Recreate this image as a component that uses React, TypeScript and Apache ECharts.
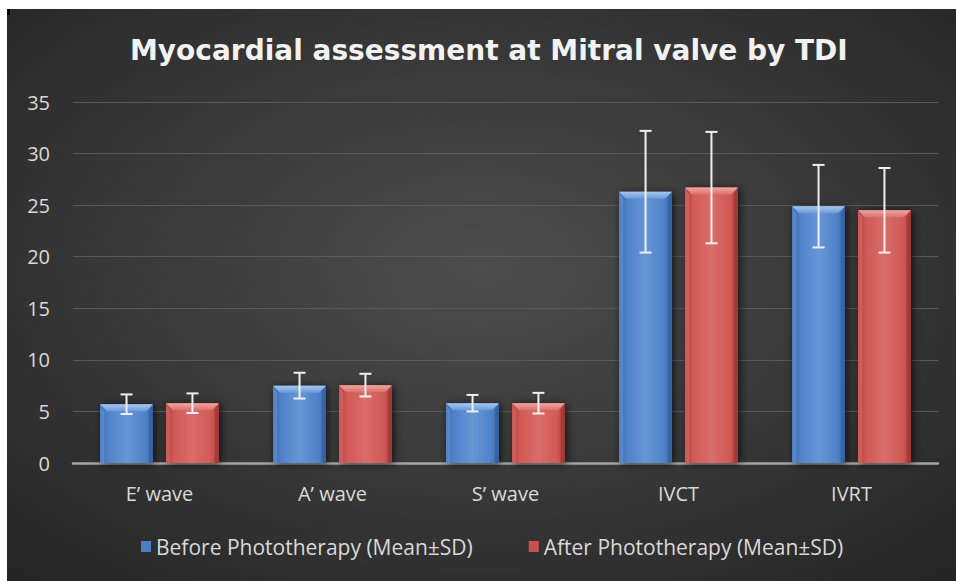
import React, { useEffect, useRef } from 'react';
import * as echarts from 'echarts';

const categories = ['E’ wave', 'A’ wave', 'S’ wave', 'IVCT', 'IVRT'];
const beforeMean = [5.7, 7.5, 5.8, 26.3, 24.9];
const beforeSD = [0.95, 1.25, 0.8, 5.9, 4.0];
const afterMean = [5.8, 7.55, 5.8, 26.7, 24.5];
const afterSD = [0.95, 1.1, 1.0, 5.4, 4.1];
const seriesNames = ['Before Phototherapy (Mean±SD)', 'After Phototherapy (Mean±SD)'];
const titleText = 'Myocardial assessment at Mitral valve by TDI';

const palettes = [
  { main: '#4f82c8', edge: '#3a68a8', light: '#6796d6', top: '#a6c8f2', topEnd: '#6c9ad6', right: '#34609c', legend: '#4a7fc6' },
  { main: '#d05956', edge: '#ad3f3c', light: '#d96d6a', top: '#f2a5a2', topEnd: '#d9716e', right: '#9e3835', legend: '#c9504d' },
];

function makeRender(side: number, pal: any) {
  return (params: any, api: any) => {
    const idx = api.value(0);
    const mean = api.value(1);
    const sd = api.value(2);
    const top = api.coord([idx, mean]);
    const base = api.coord([idx, 0]);
    const band = api.size([1, 0])[0];
    const bw = band * 0.306;
    const gap = band * 0.075;
    const cx = top[0] + side * (gap / 2 + bw / 2);
    const x0 = cx - bw / 2;
    const x1 = cx + bw / 2;
    const y0 = top[1];
    const y1 = base[1];
    const b = Math.min(7, (y1 - y0) / 2);
    const eTop = api.coord([idx, mean + sd])[1];
    const eBot = api.coord([idx, mean - sd])[1];
    const cap = 6;
    const ebStyle = { stroke: '#f0f0f0', lineWidth: 2 };
    return {
      type: 'group',
      children: [
        {
          type: 'rect',
          shape: { x: x0, y: y0, width: bw, height: y1 - y0 },
          style: {
            fill: {
              type: 'linear', x: 0, y: 0, x2: 1, y2: 0,
              colorStops: [
                { offset: 0, color: pal.edge },
                { offset: 0.15, color: pal.main },
                { offset: 0.5, color: pal.light },
                { offset: 0.85, color: pal.main },
                { offset: 1, color: pal.edge },
              ],
            },
            shadowBlur: 8,
            shadowColor: 'rgba(0,0,0,0.7)',
            shadowOffsetX: 2,
            shadowOffsetY: 1,
          },
        },
        {
          type: 'polygon',
          shape: { points: [[x0, y0], [x1, y0], [x1 - b, y0 + b], [x0 + b, y0 + b]] },
          style: {
            fill: {
              type: 'linear', x: 0, y: 0, x2: 0, y2: 1,
              colorStops: [
                { offset: 0, color: pal.top },
                { offset: 1, color: pal.topEnd },
              ],
            },
          },
        },
        {
          type: 'polygon',
          shape: { points: [[x0, y0], [x0 + b * 0.6, y0 + b], [x0 + b * 0.6, y1], [x0, y1]] },
          style: { fill: pal.light, opacity: 0.6 },
        },
        {
          type: 'polygon',
          shape: { points: [[x1, y0], [x1 - b * 0.6, y0 + b], [x1 - b * 0.6, y1], [x1, y1]] },
          style: { fill: pal.right, opacity: 0.8 },
        },
        { type: 'line', shape: { x1: cx, y1: eTop, x2: cx, y2: eBot }, style: ebStyle },
        { type: 'line', shape: { x1: cx - cap, y1: eTop, x2: cx + cap, y2: eTop }, style: ebStyle },
        { type: 'line', shape: { x1: cx - cap, y1: eBot, x2: cx + cap, y2: eBot }, style: ebStyle },
      ],
    };
  };
}

export default function App() {
  const ref = useRef<HTMLDivElement>(null);
  useEffect(() => {
    if (!ref.current) return;
    const chart = echarts.init(ref.current, undefined, { renderer: 'svg' });
    const beforeData = categories.map((_, i) => [i, beforeMean[i], beforeSD[i]]);
    const afterData = categories.map((_, i) => [i, afterMean[i], afterSD[i]]);
    chart.setOption({
      animation: false,
      backgroundColor: '#ffffff',
      graphic: [
        {
          type: 'rect',
          z: -10,
          silent: true,
          shape: { x: 7, y: 9, width: 949, height: 572 },
          style: {
            fill: {
              type: 'radial', x: 0.5, y: 0.45, r: 0.75,
              colorStops: [
                { offset: 0, color: '#4d4d4d' },
                { offset: 1, color: '#242424' },
              ],
            },
          },
        },
        {
          type: 'rect',
          z: -9,
          silent: true,
          shape: { x: 7, y: 9, width: 3, height: 6 },
          style: { fill: '#000000' },
        },
      ],
      title: {
        text: titleText,
        left: 130,
        top: 36,
        padding: 0,
        textStyle: {
          color: '#f2f2f2',
          fontFamily: 'DejaVu Sans',
          fontWeight: 'bold',
          fontSize: 28,
        },
      },
      legend: {
        left: 136,
        top: 531,
        itemWidth: 10,
        itemHeight: 11,
        itemGap: 56,
        icon: 'rect',
        textStyle: {
          color: '#d9d9d9',
          fontFamily: 'Open Sans',
          fontSize: 21,
        },
        data: seriesNames,
      },
      grid: { left: 73, right: 18, top: 102, bottom: 118 },
      xAxis: {
        type: 'category',
        data: categories,
        axisTick: { show: false },
        axisLine: { lineStyle: { color: '#a6a6a6', width: 2.5 } },
        axisLabel: {
          color: '#d9d9d9',
          fontFamily: 'Open Sans',
          fontSize: 20,
          margin: 20,
        },
      },
      yAxis: {
        type: 'value',
        min: 0,
        max: 35,
        interval: 5,
        axisLine: { show: false },
        axisTick: { show: false },
        splitLine: { lineStyle: { color: '#5a5a5a', width: 1 } },
        axisLabel: {
          color: '#d9d9d9',
          fontFamily: 'Open Sans',
          fontSize: 20,
          margin: 23,
        },
      },
      series: [
        {
          name: seriesNames[0],
          type: 'custom',
          renderItem: makeRender(-1, palettes[0]),
          itemStyle: { color: palettes[0].legend },
          encode: { x: 0, y: 1 },
          data: beforeData,
          z: 3,
        },
        {
          name: seriesNames[1],
          type: 'custom',
          renderItem: makeRender(1, palettes[1]),
          itemStyle: { color: palettes[1].legend },
          encode: { x: 0, y: 1 },
          data: afterData,
          z: 3,
        },
      ],
    });
    return () => chart.dispose();
  }, []);
  return (
    <div
      ref={ref}
      style={{ position: 'fixed', left: 0, top: 0, width: 956, height: 581 }}
    />
  );
}
